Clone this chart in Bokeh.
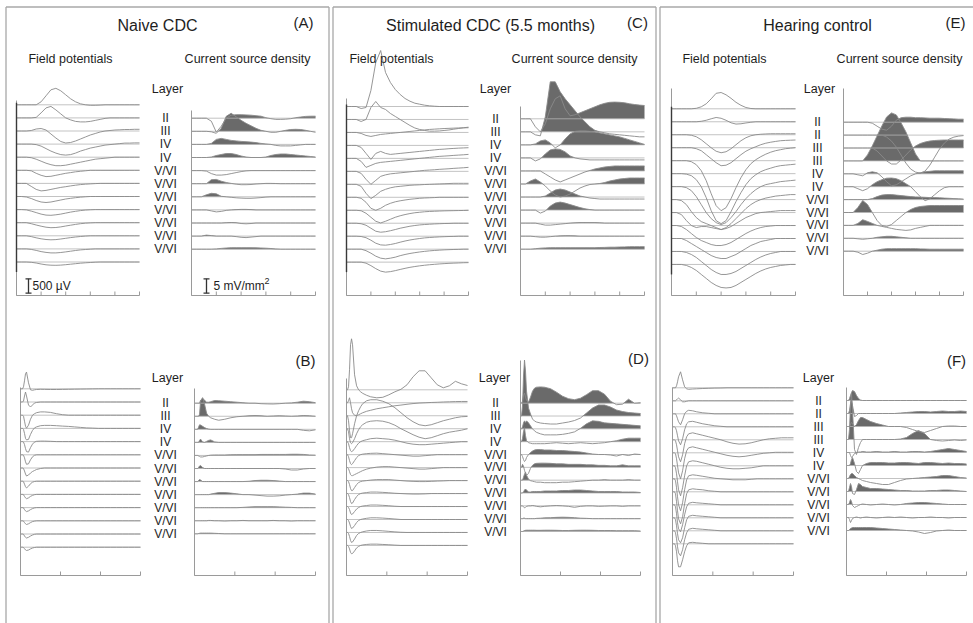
from bokeh.plotting import figure
from bokeh.models import Range1d
from bokeh.embed import file_html
from bokeh.resources import INLINE
from bokeh.core.properties import value

# ---------------- data ----------------
# time grids (ms) of the sampled traces
T_TOP = [0,10,20,30,40,50,60,70,80,90,100,110,120,130,140,150,160,170,180,190,200,210,220,230,240,250]
T_BOT = [0,5,10,15,20,25,30,40,50,60,70,80,100,120,150,180,210,240,270,300,330,360,390,420,450,480,510,540,570,600]
TOP_TICKS = [0, 50, 100, 150, 200, 250]
BOT_TICKS = [0, 200, 400, 600]

LAYERS_CDC = ["II", "III", "IV", "IV", "V/VI", "V/VI", "V/VI", "V/VI", "V/VI", "V/VI", "V/VI"]
LAYERS_HC = ["II", "II", "III", "III", "IV", "IV", "V/VI", "V/VI", "V/VI", "V/VI", "V/VI"]

# amplitudes in display units (scale bar = 14.4 units = 500 uV or 5 mV/mm2), positive = up
FP_A = [
 [0,0,0,0,0,3,9,15,16.5,14,10,6,3,1,0,-0.5,-0.5,-0.3,0,0,0,0,0,0,0,0],
 [0,0,0,0,0.5,5,10,11.5,8,4,0,-2,-3.5,-4,-4,-3.5,-2.5,-1.5,-0.5,0,0,0,0,0,0,0],
 [0,0,0,0.5,2,2.5,1,-3,-7,-10.5,-12,-11.5,-10,-8,-6,-4,-2.5,-1,0,0.5,1,1.2,1.5,1.5,1.7,1.7],
 [0,0,0,0,-0.5,-2,-4.5,-7,-9,-10.5,-11,-10.5,-9,-7,-5.5,-4,-3,-2,-1,-0.5,0,0.5,1,1,1.2,1.2],
 [0,0,0,-0.5,-2,-4,-6,-7.5,-8.5,-8.5,-8,-7,-6,-5,-4,-3,-2,-1.5,-1,-0.5,0,0,0,0,0,0],
 [0,0,0,-0.5,-3,-5,-6.3,-6,-5,-4,-3,-2.3,-1.5,-1,-0.5,0,0,0,0,0,0,0,0,0,0,0],
 [0,0,0,-3,-6,-7.5,-7,-6,-5,-4,-3.3,-2.5,-1.8,-1.2,-0.8,-0.5,-0.2,0,0,0,0,0,0,0,0,0],
 [0,0,-0.5,-2,-4,-5.5,-6,-5.5,-4.5,-3.5,-2.5,-1.8,-1.2,-0.7,-0.3,0,0,0,0,0,0,0,0,0,0,0],
 [0,0,-0.3,-1.5,-3,-4.5,-5.5,-5.7,-5.2,-4.5,-3.5,-2.5,-1.7,-1,-0.5,-0.2,0,0,0,0,0,0,0,0,0,0],
 [0,0,0,-1,-2.3,-3.5,-4.5,-5,-4.8,-4.2,-3.3,-2.5,-1.7,-1,-0.5,-0.2,0,0,0,0,0,0,0,0,0,0],
 [0,0,0,-0.8,-2,-3,-3.7,-4,-3.8,-3.2,-2.5,-1.8,-1.2,-0.7,-0.3,0,0,0,0,0,0,0,0,0,0,0],
 [0,0,0,-0.5,-1.5,-2.7,-3.5,-4,-4,-3.6,-3,-2.3,-1.6,-1,-0.6,-0.3,0,0,0,0,0,0,0,0,0,0],
 [0,0,0,-0.3,-1,-2,-2.8,-3.2,-3.3,-3.1,-2.7,-2.2,-1.7,-1.2,-0.8,-0.5,-0.2,0,0,0,0,0,0,0,0,0],
]
CSD_A = [
 [0,0,0,0,-3,-14,-8,0,3,3.5,3.5,3.3,3,2.5,2,0.5,-0.5,-1.2,-1.2,-1,-0.5,0.5,1.2,1.8,2,2],
 [0,0,0,0,-0.5,-2,3,15,18,14.5,11,8,5.5,3,1,0,-1,-1,0,1,1.8,2,1.8,1,0,-1],
 [0,0,0,0,1,5,6,5,4,3.5,3,2.7,2.3,1.8,1,0.5,0,-1,-1.5,-1.5,-1.5,-1,-0.5,0,0,0],
 [0,0,0,0,0.5,2,3,4,4,3,1.5,0.5,0,0,0,0.5,2,3,3.5,3.5,3,2.5,2,1.5,1,0.5],
 [0,0,0,-0.5,-3,-4.5,-4.5,-4,-3,-2,-1,-0.3,0,0,0,0,0,0,0,0,0,0,0,0,0,0],
 [0,0,0,0,4,4.3,2.5,1.2,0.3,-0.5,-1,-1,-0.8,-0.3,0,0.3,0.3,0.2,0,0,0,0,0,0,0,0],
 [0,0,0,2,3.5,3,0.5,0,-0.5,-1,-1.3,-1.5,-1.5,-1.2,-0.8,-0.3,0,0,0,0,0,0,0,0,0,0],
 [0,0,0,0,-1,-2,-1.5,-0.5,0,0.3,0.5,0.5,0.3,0,0,0,0,0,0,0,0,0,0,0,0,0],
 [0,0,0,0,0,0,0,0.3,0.5,0.3,-0.5,-0.8,-0.5,0,0,0,0,0,0,0,0,0,0,0,0,0],
 [0,0,0,1,0.5,0,0,0,0,-0.5,-1.2,-1.5,-1,-0.5,0,0,0,0,0,0,0,0,0,0,0,0],
 [0,0,0,0,0,0.3,0.8,1.2,1.5,1.5,1.5,1.5,1.5,1.4,1.2,1,0.7,0.3,0,0,0,0,0,0,0,0],
]
FP_B = [
 [0,0,0,2,8,15,16.7,6,-1,-1.5,-1,-0.7,-0.5,-0.6,-0.7,-0.7,-0.6,-0.5,-0.4,-0.3,-0.2,-0.1,0,0,0,0,0,0,0,0],
 [0,0,0,1,6,10,6,-3,-5,-3,-1,-0.5,0,0,0,0,0,0,0,0,0,0,0,0,0,0,0,0,0,0],
 [0,0,0,-1,-6,-11,-13,-10,-4,0,1.5,2.5,3.3,3.3,2.8,1.5,0.5,0,0,0,0,0,0,0,0,0,0,0,0,0],
 [0,0,0,-1,-5,-10,-11.5,-11,-6,-2,0.5,1.5,2.7,3,3,2.7,2.3,2,1.5,1,0.5,0.3,0,0,0,0,0,0,0,0],
 [0,0,0,-0.5,-3,-7,-10,-10.5,-6,-2.5,-0.5,0.3,0.5,0.5,0.3,0,0,0,0,0,0,0,0,0,0,0,0,0,0,0],
 [0,0,0,-0.5,-3,-7,-9.5,-9,-5,-2,-0.5,0,0,0,0,0,0,0,0,0,0,0,0,0,0,0,0,0,0,0],
 [0,0,0,-0.5,-3,-6,-8,-7,-5,-3.5,-2.5,-1.5,-0.5,0,0,0,0,0,0,0,0,0,0,0,0,0,0,0,0,0],
 [0,0,0,-0.5,-3,-5.5,-6.7,-5,-2.5,-1,-0.3,0,0,0,0,0,0,0,0,0,0,0,0,0,0,0,0,0,0,0],
 [0,0,0,-0.3,-2,-3.5,-4.3,-3.5,-2,-1,-0.3,0,0,0,0,0,0,0,0,0,0,0,0,0,0,0,0,0,0,0],
 [0,0,0,-0.3,-2,-3.3,-4,-3.3,-2,-1,-0.3,0,0,0,0,0,0,0,0,0,0,0,0,0,0,0,0,0,0,0],
 [0,0,0,-0.3,-1.8,-3,-3.7,-3,-1.8,-0.8,-0.3,0,0,0,0,0,0,0,0,0,0,0,0,0,0,0,0,0,0,0],
 [0,0,0,-0.3,-2,-3.3,-4,-3.3,-2,-1,-0.3,0,0,0,0,0,0,0,0,0,0,0,0,0,0,0,0,0,0,0],
 [0,0,0,-0.3,-1.5,-2.7,-3.3,-2.8,-1.7,-0.8,-0.3,0,0,0,0,0,0,0,0,0,0,0,0,0,0,0,0,0,0,0],
]
CSD_B = [
 [0,0,0,0,0,0,3,5,3,1,1,1.5,2.7,2.5,2,1.5,1,0.5,0,0,-0.5,-0.7,-0.8,-0.5,0,0.3,1,2,1.5,0.5],
 [0,0,0,0,0,2,15,18.5,12,3,0,-1.5,-3,-4,-3,-1.5,-0.5,0,0.5,0.7,0.5,0,0.3,0.5,0.3,0,0.3,0.7,0.5,0],
 [0,0,0,0,2,4.5,4.3,3,1.7,0.8,0.3,0,0,0,0,0,0,0,0,0,0,0,0,0,0,0,0,-1,-1.5,-0.5],
 [0,0,0,0,0,2,3.3,0.5,0,1,2,2.5,0.5,0,0,0,0,0,0,0,0,0,0,0,0,0,0,0,0,0],
 [0,0,0,0,-0.5,-1,-1.5,-1.5,-1,-0.5,0,0.3,0.5,0.5,0.5,0.7,0.8,0.8,0.8,0.8,1,1,1,1,1,1.2,1.2,1,0.5,0.3],
 [0,0,0,0,1,2.5,3,1,0,0,0,0,0,0,0,0,0,0,0,0,0,0,0,0,-0.5,-1.5,-1.5,-0.5,0,0],
 [0,0,0,0,1,2,1.5,0,0,0,0,0,0,0,0,0,0,0,0.3,1,1.3,1.3,1,0.5,0,0,0,0,0,0],
 [0,0,0,0,0,0,0,0,0,0,0,0.5,1.3,2,2,1.5,0.8,0,0,-0.5,-1,-1.5,-1.5,-1.2,-0.5,0,0.5,1.5,1.5,0.5],
 [0,0,0,0,0,0,0,0,0,0,0,0,0,0,0,0,0,0.3,0.7,1,1,1,1,0.8,0.5,0.3,0,0,0,0],
 [0,0,0,0,0,0,0,0,0,0,0.3,0.3,0,0,-0.3,0,0,0.3,0,0,0,0,0.3,0,0,-0.3,0,0,0,0],
 [0,0,0,0,0.3,0.5,0.7,0.7,0.7,0.7,0.7,0.7,0.5,0.3,0,0,0,0,0,0,0,0,0,0,0,0,0,0,0,0],
]
FP_C = [
 [0,0,0,-2,-1,16,44,56,34,24,17,12,8,5.3,3.3,2.3,1.3,0.7,0.3,0,0,0,0,0,0,0],
 [0,0,0,-2,0,12,18,12,10,6,3,0,-3,-6,-8.5,-10,-11,-11.7,-11.7,-11.5,-11,-10.5,-9.7,-9,-8.3,-7.7],
 [0,0,0,-1,-3,-4,-3,-2,-1.5,-1,-0.5,0,0.5,1,1.5,2,2.5,3,3.3,3.6,3.9,4.1,4.3,4.5,4.6,4.7],
 [0,0,0,-2,-8,-14,-8,-6,-8,-9,-8.5,-8,-7.5,-7,-6.5,-6,-5.5,-5,-4.5,-4,-3.7,-3.3,-3,-2.7,-2.5,-2.3],
 [0,0,0,-3,-9,-7,-5,-4,-3.5,-3,-2.5,-2,-1.5,-1,-0.5,0,0.5,1,1.5,2,2.3,2.6,3,3.3,3.6,4],
 [0,0,0,-2,-8,-13,-9,-5,-3.5,-2.5,-2,-1.5,-1,-0.5,0,0.5,1,1.3,1.6,2,2.3,2.6,3,3.3,3.6,4],
 [0,0,0,-2,-9,-14.3,-11,-7,-5,-3.5,-2.5,-2,-1.5,-1,-0.7,-0.5,-0.2,0,0.2,0.4,0.6,0.8,1,1,1,1],
 [0,0,0,-1,-5,-11,-13,-11,-8,-6,-4.5,-3.5,-2.7,-2,-1.5,-1,-0.7,-0.5,-0.3,0,0,0,0,0,0,0],
 [0,0,0,-0.5,-3,-7,-11,-12.7,-11,-9,-7,-5.5,-4.3,-3.3,-2.5,-2,-1.5,-1.2,-1,-0.8,-0.6,-0.5,-0.4,-0.3,-0.2,0],
 [0,0,0,-0.5,-2,-5,-8,-9,-8.5,-7.5,-6.3,-5,-4,-3,-2.3,-1.7,-1.3,-1,-0.7,-0.5,-0.3,-0.2,0,0,0,0],
 [0,0,0,-0.3,-1.5,-4,-7,-8.7,-9,-8.3,-7.3,-6,-4.8,-3.8,-3,-2.3,-1.7,-1.3,-1,-0.7,-0.5,-0.3,-0.2,0,0,0],
 [0,0,0,0,-1.5,-4,-7,-9,-9.7,-9,-8,-6.5,-5.3,-4.3,-3.5,-2.8,-2.2,-1.7,-1.3,-1,-0.7,-0.5,-0.3,-0.2,0,0],
 [0,0,0,0,-1,-3.5,-6.5,-9,-10,-9.5,-8.5,-7.3,-6.2,-5.2,-4.4,-3.7,-3.1,-2.6,-2.2,-1.8,-1.5,-1.2,-1,-0.8,-0.6,-0.5],
]
CSD_C = [
 [0,0,0,-8,-13,-5,10,20,23,10,3,4,6,8,10,12,14,15.5,16.5,16.7,16.5,16,15,14.3,13.7,13.3],
 [0,0,0,-3,-4,15,50,50,40,33,27,21,15,10,5,1.5,0,-1,-2,-2.5,-3,-3.5,-4,-4.5,-5,-5],
 [0,0,0,1,4,5,2,-3,0,6,11,13.5,14,14,13.5,13,12,11,10,9,8,6.5,5,3.5,2,0.5],
 [0,0,0,-3,-1,4,8,9,8.5,6,2,0,-1,-1.5,-2,-2,-2,-2,-2,-2,-2,-2,-2,-2,-2,-2],
 [0,0,0,0,0,-3,-6,-9,-11,-9,-7,-5,-3,-1,0.5,2,3,4,4.5,5,5,5,5,5,5,5],
 [0,0,3,5,2,-2,-7,-11,-13,-12,-10,-7,-4,-2,-0.5,0,0.5,1.5,3,4,5,5.5,6,6,6,6],
 [0,0,0,0,0,1,4,7,8,7,5,3,1,0,-1,-1.5,-2,-2,-2,-2,-2,-2,-2,-2,-2,-2],
 [0,0,0,0,-3,-1,4,7,8,7,5.5,4,2.5,1.3,0.5,0,0,0,0,0,0,0,0,0,0,0],
 [0,0,0,0,-1,-2,-2,-1.5,-1,-0.5,0,0.3,0.5,0.5,0.5,0.5,0.3,0,0,0,0,0,0,0,0,0],
 [0,0,0,-0.5,-1,-1,-0.5,0,0.3,0.5,0.5,0.3,0,0,0,0,0,0,0,0,0,0,0,0,0,0],
 [0,0,0,0.5,1,1.3,1.5,1.5,1.5,1.5,1.5,1.5,1.5,1.5,1.5,1.5,1.7,1.8,2,2,2.2,2.3,2.5,2.5,2.5,2.5],
]
FP_D = [
 [0,0,3,20,45,51,45,15,4,0,-2,-3.5,-5.5,-7,-8,-7.5,-5,-2,0.5,5,13,19,19,12,5,2,4,8.5,6,4.3],
 [0,0,2,5,0,-6,-10,-12.5,-12.7,-12,-11,-10,-8.5,-7.5,-6,-5,-4,-3,-2.3,-1.5,-0.8,-0.3,0,0.3,0.5,0.8,1,1.2,1.3,1.3],
 [0,0,-5,-15,-22,-22,-18,-8,0,5,9,12,15,16,16,14.5,12,8,3,-2,-6,-9,-10,-9,-7,-5,-3.5,-2,-1,-0.7],
 [0,0,-3,-10,-14,-15,-14,-10,-5,-1,2,4,6.5,7.5,8,7.5,6,3.5,0,-3,-6,-8.5,-10,-9,-7,-5,-3.5,-2.5,-1.5,0],
 [0,0,-2,-6,-9,-10,-9.5,-7,-4,-1.5,0,1,2,3,3.5,3,2.5,1.5,0,-1.5,-2.5,-3,-3,-2.5,-2,-1.5,-1,-0.5,0,0],
 [0,0,-2,-6,-9,-10,-9,-6,-3,-1,0,0.5,1,1.3,1.5,1,0.5,0,-0.5,-1,-1.5,-1.5,-1,-0.5,0,0,0,0,0,0],
 [0,0,-1,-4,-7,-8,-8,-7,-6,-5,-4,-3,-1.5,-0.5,0.5,1,1,0.5,0,-0.5,-1,-1.5,-1.5,-1,-0.5,0,0,0,0,0],
 [0,0,-1,-4,-8,-10,-10,-7,-4,-2,-1,-0.5,0,0.5,1,1,1,0.5,0,-0.5,-0.8,-1,-1,-0.8,-0.5,-0.3,0,0,0,0],
 [0,0,-1,-4,-8,-10,-9.5,-6,-3,-1,0,0.5,1,1.5,1.5,1.2,0.8,0.3,0,-0.3,-0.5,-0.5,-0.3,0,0,0,0,0,0,0],
 [0,0,-1,-3,-6.5,-8,-7.5,-5,-2.5,-1,0,0.5,1,1.5,1.5,1.2,0.8,0.3,0,0,0,0,0,0,0,0,0,0,0,0],
 [0,0,-1,-3.5,-7,-9,-8.5,-6,-3,-1,0,0.5,1.2,1.7,1.7,1.4,1,0.5,0,0,0,0,0,0,0,0,0,0,0,0],
 [0,0,-1,-4,-8,-10,-9.5,-6.5,-3,-1,0,0.7,1.5,2,2,1.6,1.1,0.6,0.2,0,0,0,0,0,0,0,0,0,0,0],
 [0,0,-1,-3.5,-7,-8.3,-8,-5.5,-2.5,-1,0,0.5,1,1.3,1.3,1,0.7,0.3,0,0,0,0,0,0,0,0,0,0,0,0],
]
CSD_D = [
 [0,0,2,8,10,6,3,1,6,12,15,16,16.3,16,14.5,11,7,4.5,3.5,5,8.5,12.5,12.5,9,2,-1.5,-1,4,0,0.5],
 [0,0,10,40,56,45,25,8,2,-3,-5,-6,-7,-7.5,-8,-8,-7,-6,-4.5,-2,3,8,11,11,9,6,4.5,3.5,3,2.5],
 [0,0,2,6,8,6,8,6,3,0,-2,-3.5,-5,-6,-6,-6,-5.5,-4.5,-3,0.5,5,8,7.5,6,5.5,5,4.5,4,3.5,3],
 [0,0,3,10,14,6,1,-1,-1.5,-2,-2,-2,-2,-2,-1.5,-1,-1.5,-2,-1.5,-1,-1.5,-2,-1.5,-1,0,1,2.5,3.5,3.5,3.5],
 [0,0,-2,-5,-7,-6,-3,0,2,3.5,4.5,5,5,4.5,4.5,4,4,3.5,3,2.5,1.5,0.5,0,0,-0.5,-1.5,0,-1,0.5,0],
 [0,0,3,1,-3,-6,-8,-6,-1,2,3.5,4,4.2,4.2,4,3.5,3.5,3,3,3,2.5,2.5,2,2,1.5,1.5,2.5,1.5,1.5,1.5],
 [0,0,0,3,6,8,5,1,-0.5,-1,-1.5,-2,-2,-2.5,-2.5,-2.5,-2,-2,-1.5,-1,-0.5,0,0,0.5,0,0,0,0.5,0,0],
 [0,0,0,1,3,4,3,1,1,1.5,1.5,1.5,1.5,2,2,2,2.5,2.5,3,3,2.5,2,1.5,1.5,1.5,1.5,1,1,1,0.5],
 [0,0,0,-1,-2,-1.5,-0.5,0,0,0.3,0,-0.5,-1,-0.5,0,0.3,0,-0.5,-1.5,-0.5,0,0,-0.5,-0.3,0,0,-0.5,0,0,0],
 [0,0,0,0.5,0.5,0,0,0,0,0,0,0.3,0.5,0.8,1,1.3,1.5,1.3,1,0.5,0.3,0,0,0,0,0,0,0,0,0],
 [0,0,0,0.5,1,1.2,1.3,1.3,1.3,1.3,1.3,1.2,1.2,1.3,1.3,1.2,1,1,1.2,1.3,1.3,1.2,1,1,1,0.8,0.8,0.8,0.8,0.5],
]
FP_E = [
 [0,0,0,0,0,0.5,2,5,10,15.5,16.3,14,10.5,6.5,3.5,1.3,0.3,0,0,0,0,0,0,0,0,0],
 [0,0,0,0,0,0,0.5,1.5,3,4.3,3.5,1.5,-1,-2.3,-2,-1.2,-0.5,0,0,0,0,0,0,0,0,0],
 [0,0,0,0,-0.5,-2,-5,-9,-13,-16.5,-18,-17,-14,-10,-6,-3,-1,0,0.5,0.8,1,1,1,1,1,1],
 [0,0,0,0,0,-1,-3,-7,-11,-15,-18,-17.5,-15,-11,-7,-3.5,-1,1,3,4.5,5.5,6.3,7,7.3,7.5,7.7],
 [0,0,0,0,-1,-4,-10,-20,-33,-45,-50,-47,-38,-27,-17,-9,-3,1,4,6.5,8.5,10,11,12,12.5,13],
 [0,0,0,-0.5,-2,-6,-13,-24,-37,-47,-50,-47,-38,-28,-19,-11,-5,-1,2,4,5.5,7,8,8.5,9,9.5],
 [0,0,0,-1,-4,-10,-18,-26,-32,-36,-38,-36,-31,-25,-18,-12,-7,-3,0,2,3,4,5,5.5,6,6.5],
 [0,0,-1,-5,-12,-18,-22,-24,-26,-28,-30,-28,-24,-19,-14,-9,-5,-2,0,1.5,2.5,3.5,4,4.5,5,5],
 [0,0,-2,-8,-13,-15,-14,-14,-15,-16,-17,-16,-14,-11,-8,-5,-3,-1,0,0.5,1,1.5,2,2,2,2],
 [0,0,-1,-4,-8,-12,-15,-17,-19,-20,-20,-19,-17,-14,-11,-8,-5.5,-3.5,-2,-1,-0.5,0,0,0,0,0],
 [0,0,0,-2,-5,-8,-11,-14,-17,-19,-20,-20,-18,-16,-13,-10,-7,-5,-3,-2,-1,0,0,0,0,0],
 [0,0,0,-1,-3,-6,-10,-14,-18,-21,-23,-23,-22,-20,-17,-14,-11,-8,-5.5,-3.5,-2,-1,0,0,0,0],
 [0,0,0,-1,-3,-6,-10,-14,-18,-21,-23,-23.5,-23,-21,-18,-15,-12,-9,-6.5,-4.5,-3,-2,-1,-0.5,0,0],
]
CSD_E = [
 [0,0,0,0,0,0,-1,-4,-7,-8,-4,2,4.5,5,5,4.5,4.5,4.3,4,4,4,3.7,3.5,3.3,3,3],
 [0,0,0,0,0,0,0,0,0,-2,-6,-12,-20,-28,-34,-37,-38,-36,-30,-22,-14,-8,-4,-2,-1,-0.5],
 [0,0,0,0,0,0,0,-3,-8,-13,-16,-16,-12,-7,-2,2,4.5,6,7,7.5,7.8,8,8,8,8,8],
 [0,0,0,0,0,6,15,25,35,44,48,46,38,29,18,7,0,0,0,0,0,0,0,0,0,0],
 [0,0,0,-1,-2,1,2,1,-3,-8,-12,-11,-8,-5,-2,0,1,2,2.5,3,3,3,3,3,3,3],
 [0,0,0,-2,-4,-2,2,5,7,8.5,8.7,8,6,3,0,-5,-10,-14,-12,-8,-4,-1,0,0,0,0],
 [0,0,0,0,0,0,1,3,4.5,5,5,4.5,4,3.5,3,2.7,2.5,2.3,2,2,1.8,1.5,1.3,1,0.8,0.5],
 [0,0,0,5,12,8,0,-8,-13,-14,-12,-8,-4,0,3,5,6,6.5,7,7,7,7,7,7,7,7],
 [0,0,0,2,5.7,4,2,0,-1,-2,-3,-4,-4.5,-5,-4.5,-3,-2,-1,0,0,0,0,0,0,0,0],
 [0,0,0,-0.5,-1,-0.5,0,1,1.5,2,2,1.5,1,0.5,0,0,0,0,0,0,0,0,0,0,0,0],
 [0,0,0,-1,-3.3,-2,0,1,2,2.5,2.5,2.5,2.5,2.5,2.5,2.5,2.3,2.2,2,2,2,2,2,2,2,2],
]
FP_F = [
 [0,0,0,0,2,6,11,16,8,1,-1,-1.5,-1.2,-1,-0.7,-0.5,-0.3,-0.2,0,0,0,0,0,0,0,0,0,0,0,0],
 [0,0,0,0,1,2,2.7,1,-1,-1,-0.5,0,0,0,0,0,0,0,0,0,0,0,0,0,0,0,0,0,0,0],
 [0,0,0,0,-2,-5,-8,-11,-6,0,2.5,3.5,3,2,1,0.5,0,0,0,0,0,0,0,0,0,0,0,0,0,0],
 [0,0,0,-1,-4,-9,-14,-18,-12,-3,3,5,5.5,4.5,3,2,1,0.5,0,0,0,0,0,0,0,0,0,0,0,0],
 [0,0,0,-1,-5,-11,-17,-22,-15,-4,3,6,7,6,4.5,3,1.5,0,-2,-3.5,-4.3,-4,-3,-1.5,0,1,1.5,2,2,2],
 [0,0,0,-1,-6,-13,-20,-26,-18,-6,2,5,6,5,3.5,2,0.5,-1,-2.5,-3.5,-4,-3.5,-2.5,-1.5,-0.5,0,0.5,0.5,0.5,0.5],
 [0,0,0,-2,-8,-16,-24,-30,-22,-10,0,4,5,4.5,3,1.5,0,-1.5,-2.5,-3,-3,-2.5,-2,-1,0,0,0,0,0,0],
 [0,0,0,-2,-9,-18,-26,-32,-24,-11,-1,3,4,3.5,2.5,1.5,0.5,0,-0.5,-1,-1,-1,-0.5,0,0,0,0,0,0,0],
 [0,0,0,-2,-10,-19,-27,-32,-25,-12,-2,2,3,2.5,2,1,0.5,0,0,0,0,0,0,0,0,0,0,0,0,0],
 [0,0,0,-2,-9,-18,-24,-27,-20,-10,-2,1.5,2.5,2,1.5,1,0.5,0,0,0,0,0,0,0,0,0,0,0,0,0],
 [0,0,0,-2,-8,-16,-22,-25,-20,-10,-2,1.5,2.5,2,1.5,1,0.5,0,0,0,0,0,0,0,0,0,0,0,0,0],
 [0,0,0,-2,-8,-16,-22,-25,-19,-9,-2,1.5,2.5,2,1.5,1,0.5,0,0,0,0,0,0,0,0,0,0,0,0,0],
 [0,0,0,-2,-8,-17,-23,-23,-16,-8,-2,1,1.5,1,0.5,0,0,0,0,0,0,0,0,0,0,0,0,0,0,0],
]
CSD_F = [
 [0,0,0,2,5,8,10,9,5,2,0.5,0,0,0,0,0,0,0,0,0,0,0,0,0,0,0,0,0,0,0],
 [0,0,0,3,10,14,8,-3,-2,0,0,0,0,0,0,0,0,0,0.5,1,1.5,2,2,1.5,2,2.5,2,2,2.5,2],
 [0,0,0,0,2,4,3,0,2,6,9,9,7,5,3,1.5,0,0,0,-1,-3,-5,-6,-4,-2,0,0.5,0.5,0,0],
 [0,0,0,10,35,46,30,-10,-15,-8,-3,0,0,0,0,0,0,0,0.5,2,6,9,6,0,-1,-1.5,-1,-0.5,-1,-0.5],
 [0,0,0,0,-3,-5,-4,-1,0,0.5,0.5,1,0.5,0.5,1,0.5,0.5,1,0.5,0.5,1,1,0.5,1,2,3,4,3,2,1],
 [0,0,0,0,2,6,8,2,-6,-8,-4,0,2,3,3,3,2.5,2.5,3,3,2.5,2,3,3,2.5,2,2.5,2,2,1.5],
 [0,0,0,2,4,5,5,3,1,0,-1,-2,-3,-4,-5,-6,-6,-4,-2,-0.5,0,0.5,1,1.5,2,3,3,2,1,0.5],
 [0,0,0,4,8,5,-2,-3,2,8,7,5,4,3,3,2.5,2,1.5,1,1,0.5,0.5,0.5,1,1,1.5,1.5,1,0.5,0],
 [0,0,0,2,5,3,-1,-3,-2,-1,0,0.5,0,-0.5,0,0.5,0,-0.5,0,1,1.5,2,2,1.5,1,0.5,0,0,0,0],
 [0,0,0,-2,-5,-3,-1,0,0.5,0,-0.5,0,0.5,0,-0.5,0,0.5,0,0.5,0,-0.5,0,0,0.5,0,0,-0.5,0,0,0],
 [0,0,0,1,2,2.5,3,3,3,3,3,3,3,3,2.5,2,1.5,1,0.5,0,-0.5,-1.5,-3,-2,-0.5,0,0.5,0,0,0],
]
SCALE_LEN = 14.4  # display units of the calibration bars

# ---------------- layout (reference pixel positions) ----------------
W, H = 973, 623
OX, OY = 0, 0
def X(v): return v - OX
def Y(v): return v - OY

FONT = value("Liberation Sans")
TXT = "#1e1e1e"
LINE_C = "#8a8a8a"
BASE_C = "#b4b4b4"
AX_C = "#9a9a9a"
FILL_C = "#6a6a6a"

PANELS = [
 dict(name="A", t=T_TOP, ticks=TOP_TICKS, fp=FP_A, csd=CSD_A, layers=LAYERS_CDC, bottom=295,
      fpx=(16,139), fpb=(104.3,13.1), fptop=100, csx=(191,315), csb=(117.7,13.1), cstop=110,
      labx=165, layer=(167,88), letter=(303,22), art=True),
 dict(name="B", t=T_BOT, ticks=BOT_TICKS, fp=FP_B, csd=CSD_B, layers=LAYERS_CDC, bottom=575,
      fpx=(20,140), fpb=(388.3,13.2), fptop=387, csx=(194,315), csb=(402.7,13.06), cstop=388,
      labx=165, layer=(167,377), letter=(305,360), art=False),
 dict(name="C", t=T_TOP, ticks=TOP_TICKS, fp=FP_C, csd=CSD_C, layers=LAYERS_CDC, bottom=295,
      fpx=(346,468), fpb=(106,12.97), fptop=98, csx=(520,644), csb=(118.3,13.04), cstop=106,
      labx=495, layer=(495,88), letter=(637,22), art=True),
 dict(name="D", t=T_BOT, ticks=BOT_TICKS, fp=FP_D, csd=CSD_D, layers=LAYERS_CDC, bottom=575,
      fpx=(346,467), fpb=(389.3,12.97), fptop=378, csx=(520,640), csb=(402.7,12.83), cstop=360,
      labx=495, layer=(494,377), letter=(638,358), art=False),
 dict(name="E", t=T_TOP, ticks=TOP_TICKS, fp=FP_E, csd=CSD_E, layers=LAYERS_HC, bottom=295,
      fpx=(671,795), fpb=(108.3,12.97), fptop=88, csx=(843,963), csb=(121.7,12.9), cstop=88,
      labx=817, layer=(819,88), letter=(955,22), art=True),
 dict(name="F", t=T_BOT, ticks=BOT_TICKS, fp=FP_F, csd=CSD_F, layers=LAYERS_HC, bottom=575,
      fpx=(672,793), fpb=(387.3,13.0), fptop=387, csx=(846,966), csb=(400,13.0), cstop=387,
      labx=818, layer=(818,377), letter=(956,360), art=False),
]
TITLES = [("Naive CDC", 157), ("Stimulated CDC (5.5 months)", 490), ("Hearing control", 817)]
SUB_FP = [70, 391, 724]
SUB_CSD = [247, 574, 899]

p = figure(width=W, height=H, x_range=Range1d(0, W), y_range=Range1d(H, 0),
           output_backend="svg", toolbar_location=None, min_border=0,
           x_axis_location=None, y_axis_location=None)
p.grid.visible = False
p.outline_line_color = None
p.background_fill_color = "white"
p.border_fill_color = "white"

# panel borders
BX = [(5.5, 328.5), (332.5, 655.5), (659.5, 990)]
for (l, r) in BX:
    p.segment(x0=[X(l)], y0=[Y(6.5)], x1=[X(r)], y1=[Y(6.5)], line_color="#a8a8a8", line_width=1.3)
    p.segment(x0=[X(l)], y0=[Y(6.5)], x1=[X(l)], y1=[H], line_color="#a8a8a8", line_width=1.3)
    if r < 970:
        p.segment(x0=[X(r)], y0=[Y(6.5)], x1=[X(r)], y1=[H], line_color="#a8a8a8", line_width=1.3)


def crossings(xs, vs):
    px, pv = [], []
    for k in range(len(xs)):
        if k > 0 and (vs[k-1] > 0) != (vs[k] > 0) and vs[k-1] != vs[k]:
            f = vs[k-1] / (vs[k-1] - vs[k])
            px.append(xs[k-1] + f * (xs[k] - xs[k-1]))
            pv.append(0.0)
        px.append(xs[k])
        pv.append(max(vs[k], 0.0))
    return px, pv


def draw_block(times, ticks, data, xr, base, top, bottom, fill, artifact):
    x0, x1 = xr
    tmax = times[-1]
    xs = [X(x0 + (x1 - x0) * t / tmax) for t in times]
    lx, ly, bx, by, fx, fy = [], [], [], [], [], []
    for i, tr in enumerate(data):
        assert len(tr) == len(times), (len(tr), len(times))
        b = Y(base[0] + i * base[1])
        lx.append(xs); ly.append([b - v for v in tr])
        bx.append([xs[0], xs[-1]]); by.append([b, b])
        if fill and max(tr) > 0:
            px, pv = crossings(xs, tr)
            fx.append(px + px[::-1]); fy.append([b - v for v in pv] + [b] * len(px))
    if fx:
        p.patches(fx, fy, fill_color=FILL_C, line_color=None)
    p.multi_line(bx, by, line_color=BASE_C, line_width=0.8)
    p.multi_line(lx, ly, line_color=LINE_C, line_width=0.9)
    # axes
    yb = Y(bottom)
    p.segment(x0=[X(x0)], y0=[Y(top)], x1=[X(x0)], y1=[yb], line_color=AX_C, line_width=1)
    p.segment(x0=[X(x0)], y0=[yb], x1=[X(x1)], y1=[yb], line_color=AX_C, line_width=1)
    tx = [X(x0 + (x1 - x0) * t / ticks[-1]) for t in ticks]
    p.segment(x0=tx, y0=[yb] * len(tx), x1=tx, y1=[yb - 4] * len(tx), line_color=AX_C, line_width=1)
    if artifact:
        ylast = Y(base[0] + (len(data) - 1) * base[1])
        p.segment(x0=[X(x0)], y0=[Y(base[0]) - 2], x1=[X(x0)], y1=[ylast + 10], line_color="#3a3a3a", line_width=1.4)


for P in PANELS:
    draw_block(P["t"], P["ticks"], P["fp"], P["fpx"], P["fpb"], P["fptop"], P["bottom"], False, P["art"])
    draw_block(P["t"], P["ticks"], P["csd"], P["csx"], P["csb"], P["cstop"], P["bottom"], True, False)
    ly = [Y(P["csb"][0] + i * P["csb"][1]) for i in range(len(P["layers"]))]
    p.text(x=[X(P["labx"])] * len(ly), y=ly, text=P["layers"], text_font=FONT, text_font_size="12px",
           text_color=TXT, text_align="center", text_baseline="middle")
    p.text(x=[X(P["layer"][0])], y=[Y(P["layer"][1])], text=["Layer"], text_font=FONT, text_font_size="12.5px",
           text_color=TXT, text_align="center", text_baseline="middle")
    p.text(x=[X(P["letter"][0])], y=[Y(P["letter"][1])], text=["(" + P["name"] + ")"], text_font=FONT,
           text_font_size="15px", text_color=TXT, text_align="center", text_baseline="middle")

for (t, cx) in TITLES:
    p.text(x=[X(cx)], y=[Y(25)], text=[t], text_font=FONT, text_font_size="16px", text_color=TXT,
           text_align="center", text_baseline="middle")
for cx in SUB_FP:
    p.text(x=[X(cx)], y=[Y(58)], text=["Field potentials"], text_font=FONT, text_font_size="12.5px",
           text_color=TXT, text_align="center", text_baseline="middle")
for cx in SUB_CSD:
    p.text(x=[X(cx)], y=[Y(58)], text=["Current source density"], text_font=FONT, text_font_size="12.5px",
           text_color=TXT, text_align="center", text_baseline="middle")

# calibration bars (panel A)
for bxp in (28, 206):
    yt, yb = Y(292.7) - SCALE_LEN, Y(292.7)
    p.segment(x0=[X(bxp), X(bxp) - 3, X(bxp) - 3], y0=[yt, yt, yb], x1=[X(bxp), X(bxp) + 3, X(bxp) + 3],
              y1=[yb, yt, yb], line_color="#333333", line_width=1.3)
p.text(x=[X(32)], y=[Y(285.5)], text=["500 µV"], text_font=FONT, text_font_size="12px", text_color=TXT,
       text_align="left", text_baseline="middle")
p.text(x=[X(213)], y=[Y(285.5)], text=["5 mV/mm"], text_font=FONT, text_font_size="12px", text_color=TXT,
       text_align="left", text_baseline="middle")
p.text(x=[X(264)], y=[Y(280)], text=["2"], text_font=FONT, text_font_size="9px", text_color=TXT,
       text_align="left", text_baseline="middle")

open("out.html", "w").write(file_html(p, INLINE))
